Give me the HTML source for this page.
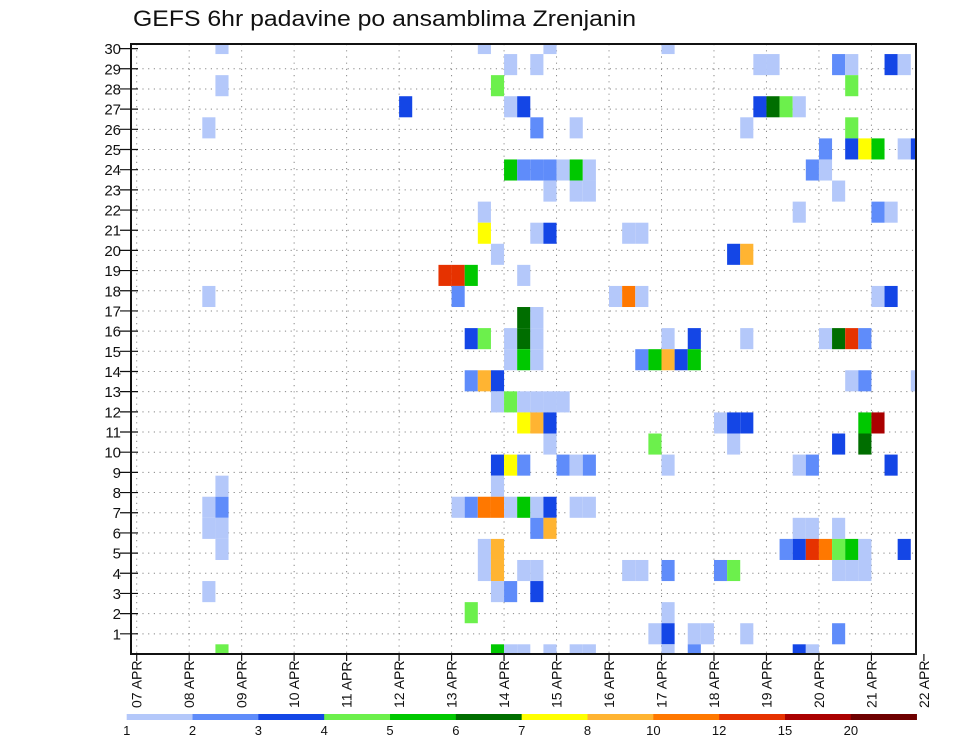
<!DOCTYPE html>
<html><head><meta charset="utf-8"><style>
html,body{margin:0;padding:0;background:#fff;}
svg{display:block;font-family:"Liberation Sans",sans-serif;}
</style></head><body>
<svg id="chart" width="960" height="742" viewBox="0 0 960 742" xmlns="http://www.w3.org/2000/svg">
<text x="133" y="26" font-size="22" textLength="503" lengthAdjust="spacingAndGlyphs" fill="#111">GEFS 6hr padavine po ansamblima Zrenjanin</text>
<g id="grid"></g><g id="cells"></g><g id="axes"></g><g id="legend"></g>
</svg>
<script>
const dayLabels=["07 APR","08 APR","09 APR","10 APR","11 APR","12 APR","13 APR","14 APR","15 APR","16 APR","17 APR","18 APR","19 APR","20 APR","21 APR","22 APR"];
const memberLabels=[1,2,3,4,5,6,7,8,9,10,11,12,13,14,15,16,17,18,19,20,21,22,23,24,25,26,27,28,29,30];
const levels=[1,2,3,4,5,6,7,8,10,12,15,20];
const levelColors=["#b4c8fa","#5f8cfa","#1446e6","#6cf04c","#00c800","#006e00","#ffff00","#ffb432","#ff7800","#e63200","#aa0000","#6e0000"];
// cell data: time step index (6h), member band, precipitation (mm)
const cellTime=[6,26,31,40, 28,30,47,48,53,54,57,58, 6,27,54, 20,28,29,47,48,49,50, 5,30,33,46,54, 52,54,55,56,58,59, 28,29,30,31,32,33,34,51,52, 31,33,34,53, 26,50,56,57, 26,30,31,37,38, 27,45,46, 23,24,25,29, 5,24,36,37,38,56,57, 29,30, 25,26,28,29,30,40,42,46,52,53,54,55, 28,29,30,38,39,40,41,42, 25,26,27,54,55,59, 27,28,29,30,31,32, 29,30,31,44,45,46,55,56, 31,39,45,53,55, 27,28,29,32,33,34,40,50,51,57, 6,27, 5,6,24,25,26,27,28,29,30,31,33,34, 5,6,30,31,50,51,53, 6,26,27,49,50,51,52,53,54,55,58, 26,27,29,30,37,38,40,44,45,53,54,55, 5,27,28,30, 25,40, 39,40,42,43,46,53, 6,27,28,29,31,33,34,40,42,50,51];
const cellMember=[29,29,29,29, 28,28,28,28,28,28,28,28, 27,27,27, 26,26,26,26,26,26,26, 25,25,25,25,25, 24,24,24,24,24,24, 23,23,23,23,23,23,23,23,23, 22,22,22,22, 21,21,21,21, 20,20,20,20,20, 19,19,19, 18,18,18,18, 17,17,17,17,17,17,17, 16,16, 15,15,15,15,15,15,15,15,15,15,15,15, 14,14,14,14,14,14,14,14, 13,13,13,13,13,13, 12,12,12,12,12,12, 11,11,11,11,11,11,11,11, 10,10,10,10,10, 9,9,9,9,9,9,9,9,9,9, 8,8, 7,7,7,7,7,7,7,7,7,7,7,7, 6,6,6,6,6,6,6, 5,5,5,5,5,5,5,5,5,5,5, 4,4,4,4,4,4,4,4,4,4,4,4, 3,3,3,3, 2,2, 1,1,1,1,1,1, 0,0,0,0,0,0,0,0,0,0,0];
const cellValue=[1.5,1.5,1.5,1.5, 1.5,1.5,1.5,1.5,2.5,1.5,3.5,1.5, 1.5,4.5,4.5, 3.5,1.5,3.5,3.5,6.5,4.5,1.5, 1.5,2.5,1.5,1.5,4.5, 2.5,3.5,7.5,5.5,1.5,3.5, 5.5,2.5,2.5,2.5,1.5,5.5,1.5,2.5,1.5, 1.5,1.5,1.5,1.5, 1.5,1.5,2.5,1.5, 7.5,1.5,3.5,1.5,1.5, 1.5,3.5,9, 13.5,13.5,5.5,1.5, 1.5,2.5,1.5,11,1.5,1.5,3.5, 6.5,1.5, 3.5,4.5,1.5,6.5,1.5,1.5,3.5,1.5,1.5,6.5,13.5,2.5, 1.5,5.5,1.5,2.5,5.5,9,3.5,5.5, 2.5,9,3.5,1.5,2.5,1.5, 1.5,4.5,1.5,1.5,1.5,1.5, 7.5,9,3.5,1.5,3.5,3.5,5.5,17, 1.5,4.5,1.5,3.5,6.5, 3.5,7.5,2.5,2.5,1.5,2.5,1.5,1.5,2.5,3.5, 1.5,1.5, 1.5,2.5,1.5,2.5,11,11,1.5,5.5,1.5,3.5,1.5,1.5, 1.5,1.5,2.5,9,1.5,1.5,1.5, 1.5,1.5,9,2.5,3.5,13.5,11,4.5,5.5,1.5,3.5, 1.5,9,1.5,1.5,1.5,1.5,2.5,2.5,4.5,1.5,1.5,1.5, 1.5,1.5,2.5,3.5, 4.5,1.5, 1.5,3.5,1.5,1.5,1.5,2.5, 4.5,5.5,1.5,1.5,1.5,1.5,1.5,1.5,2.5,3.5,1.5];

const NS="http://www.w3.org/2000/svg";
const PL=131,PR=916,PT=44,PB=654;
const X0=136.7,STEP=13.12;
function xStep(k){return X0+STEP*k;}
function xDay(d){return X0+STEP*4*d;}
function yLabel(m){return PB-m*20.18;}
function bandTop(b){return 644.3-21.08*b;}
function colorFor(v){let c=null;for(let i=0;i<levels.length;i++){if(v>=levels[i])c=levelColors[i];}return c;}
function mk(tag,attrs,parent){const e=document.createElementNS(NS,tag);for(const k in attrs)e.setAttribute(k,attrs[k]);parent.appendChild(e);return e;}

const grid=document.getElementById('grid');
for(let m=1;m<memberLabels.length;m++){
  const l=mk('line',{x1:PL,x2:PR,y1:yLabel(m),y2:yLabel(m),stroke:'#888','stroke-width':1,'stroke-dasharray':'1.2,4.5'},grid);
  
  
}
for(let d=0;d<dayLabels.length;d++){
  const x=xDay(d); if(x>PR)continue;
  const l=mk('line',{x1:x,x2:x,y1:PT,y2:PB,stroke:'#888','stroke-width':1,'stroke-dasharray':'1.2,5'},grid);
  
  
}
const cells=document.getElementById('cells');
for(let i=0;i<cellValue.length;i++){
  const c=colorFor(cellValue[i]); if(!c)continue;
  let x1=xStep(cellTime[i]),x2=x1+STEP;
  let y1=bandTop(cellMember[i]),y2=y1+21.08;
  x1=Math.max(x1,PL);x2=Math.min(x2,PR);y1=Math.max(y1,PT);y2=Math.min(y2,PB);
  const r=mk('rect',{x:x1,y:y1,width:x2-x1,height:y2-y1,fill:c},cells);
  
  
}
const axes=document.getElementById('axes');
const frame=mk('rect',{x:PL,y:PT,width:PR-PL,height:PB-PT,fill:'none',stroke:'#111','stroke-width':2},axes);


for(let i=0;i<memberLabels.length;i++){
  const m=memberLabels[i],y=yLabel(m);
  const t=mk('line',{x1:120,x2:138,y1:y,y2:y,stroke:'#111','stroke-width':1.2},axes);
  
  
  const tx=mk('text',{x:121,y:y+5.5,'font-size':15,'text-anchor':'end',fill:'#111'},axes);
  tx.textContent=m;
  
  
}
for(let d=0;d<dayLabels.length;d++){
  const x=xDay(d);
  const t=mk('line',{x1:x,x2:x,y1:PB,y2:PB+7,stroke:'#111','stroke-width':1.2},axes);
  
  
  const tx=mk('text',{x:0,y:0,'font-size':14,transform:`translate(${x+5},708) rotate(-90)`,fill:'#111'},axes);
  tx.textContent=dayLabels[d];
  
  
}
const legend=document.getElementById('legend');
const LX0=126.7,LW=65.83;
for(let i=0;i<levels.length;i++){
  const r=mk('rect',{x:LX0+LW*i,y:714,width:LW+0.3,height:6,fill:levelColors[i]},legend);
  
  
  const tx=mk('text',{x:LX0+LW*i,y:735,'font-size':13,'text-anchor':'middle',fill:'#111'},legend);
  tx.textContent=levels[i];
  
  
}
</script>
</body></html>
